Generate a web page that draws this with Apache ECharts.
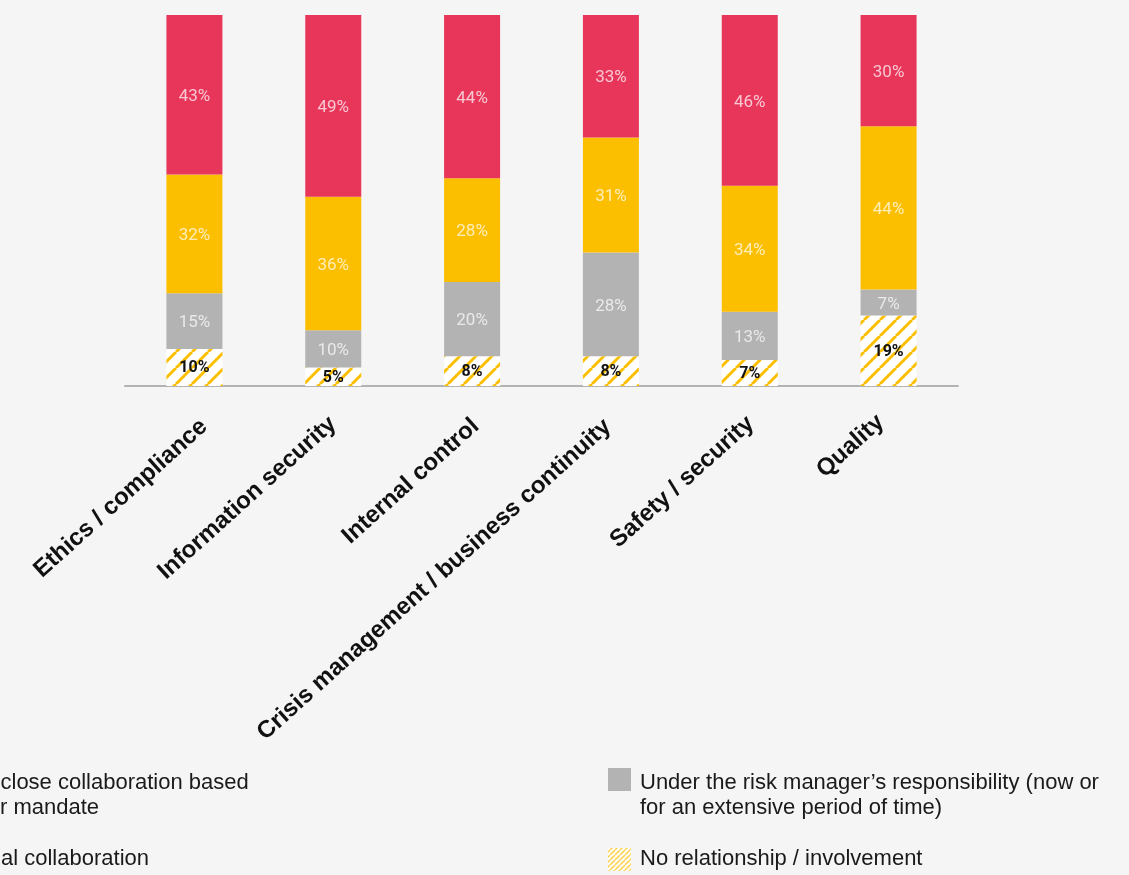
<!DOCTYPE html>
<html>
<head>
<meta charset="utf-8">
<script src="https://cdn.jsdelivr.net/npm/echarts@6/dist/echarts.min.js"></script>
<style>
  html, body { margin: 0; padding: 0; background: #f5f5f5; }
  #chart { width: 1129px; height: 875px; }
</style>
</head>
<body>
<div id="chart"></div>
<script>
// Areas of involvement
const categories = [
  'Ethics / compliance',
  'Information security',
  'Internal control',
  'Crisis management / business continuity',
  'Safety / security',
  'Quality'
];

// Shares in percent, stacked bottom to top
const noRelationship = [10, 5, 8, 8, 7, 19];
const underRiskManager = [15, 10, 20, 28, 13, 7];
const occasional = [32, 36, 28, 31, 34, 44];
const closeCollaboration = [43, 49, 44, 33, 46, 30];

const seriesNames = [
  'No relationship / involvement',
  'Under the risk manager\u2019s responsibility (now or for an extensive period of time)',
  'Occasional collaboration',
  'In close collaboration based on their mandate'
];

const RED = '#e8365b';
const YELLOW = '#fcbf00';
const GREY = '#b3b3b3';

// Fine placement of each slanted category name: [right pad, top pad, bottom pad]
const labelNudge = [
  [-7.5, 12, 0],
  [-2, 0, 5],
  [-3.5, 3, 0],
  [2, 0, 5],
  [-3, 0, 4],
  [2.5, 0, 18]
];

// Diagonal yellow stripes on white
function hatch(size, lineWidth, color) {
  const c = document.createElement('canvas');
  c.width = size; c.height = size;
  const ctx = c.getContext('2d');
  ctx.fillStyle = '#ffffff';
  ctx.fillRect(0, 0, size, size);
  ctx.strokeStyle = color;
  ctx.lineWidth = lineWidth;
  for (const k of [-size, 0, size]) {
    ctx.beginPath();
    ctx.moveTo(k, size);
    ctx.lineTo(k + size, 0);
    ctx.stroke();
  }
  return c;
}

const barHatch = hatch(16, 3, YELLOW);
const keyHatch = hatch(5, 1.6, '#fdd45a');

const legendFont = '22px "Liberation Sans", Arial, sans-serif';
const legendColor = '#1a1a1a';

// width of a piece of key text, used to line up the left key column
const measureCtx = document.createElement('canvas').getContext('2d');
measureCtx.font = legendFont;
const textWidth = s => measureCtx.measureText(s).width;

const chart = echarts.init(document.getElementById('chart'));

const fmt = p => p.value + '%';
const lightLabel = {
  show: true, position: 'inside', formatter: fmt, offset: [0, 2],
  fontFamily: 'Roboto, "Liberation Sans", sans-serif', fontSize: 17,
  color: 'rgba(255,255,255,0.72)'
};

function bar(name, data, color, label) {
  return {
    name, type: 'bar', stack: 'total', data,
    barWidth: 56,
    itemStyle: { color },
    label,
    emphasis: { disabled: true }
  };
}

// one rich style per category name
const axisRich = {};
labelNudge.forEach((n, i) => {
  axisRich['c' + i] = {
    fontFamily: '"Liberation Sans", Arial, sans-serif',
    fontSize: 24, fontWeight: 'bold', color: '#111111',
    padding: [n[1], n[0], n[2], 0]
  };
});

const leftX1 = 0.5 - textWidth('In ');
const leftX2 = -textWidth('on thei');
const leftX3 = 1 - textWidth('Occasion');

chart.setOption({
  backgroundColor: '#f5f5f5',
  animation: false,
  grid: { left: 125, right: 171, top: 15, bottom: 489, containLabel: false },
  xAxis: {
    type: 'category',
    data: categories,
    axisLine: { lineStyle: { color: '#b3b3b3', width: 2 } },
    axisTick: { show: false },
    axisLabel: {
      interval: 0, rotate: 42, margin: 38,
      fontFamily: '"Liberation Sans", Arial, sans-serif',
      fontSize: 24, fontWeight: 'bold', color: '#111111',
      formatter: (value, index) => '{c' + index + '|' + value + '}',
      rich: axisRich
    }
  },
  yAxis: { type: 'value', min: 0, max: 100, show: false },
  series: [
    bar(seriesNames[0], noRelationship, { image: barHatch, repeat: 'repeat' }, {
      show: true, position: 'inside', formatter: fmt, offset: [0, 1],
      fontFamily: 'Roboto, "Liberation Sans", sans-serif',
      fontSize: 16, fontWeight: 'bold', color: '#111111'
    }),
    bar(seriesNames[1], underRiskManager, GREY, lightLabel),
    bar(seriesNames[2], occasional, YELLOW, lightLabel),
    bar(seriesNames[3], closeCollaboration, RED, lightLabel)
  ],
  graphic: [
    // key, left column
    { type: 'rect', shape: { x: leftX3 - 32, y: 768, width: 23, height: 23 }, style: { fill: RED } },
    { type: 'text', x: leftX1, y: 783, style: { text: 'In close collaboration based', font: legendFont, fill: legendColor, verticalAlign: 'middle' } },
    { type: 'text', x: leftX2, y: 808, style: { text: 'on their mandate', font: legendFont, fill: legendColor, verticalAlign: 'middle' } },
    { type: 'rect', shape: { x: leftX3 - 32, y: 848, width: 23, height: 23 }, style: { fill: YELLOW } },
    { type: 'text', x: leftX3, y: 859, style: { text: 'Occasional collaboration', font: legendFont, fill: legendColor, verticalAlign: 'middle' } },
    // key, right column
    { type: 'rect', shape: { x: 608, y: 768, width: 23, height: 23 }, style: { fill: GREY } },
    { type: 'text', x: 640, y: 783, style: { text: 'Under the risk manager\u2019s responsibility (now or', font: legendFont, fill: legendColor, verticalAlign: 'middle' } },
    { type: 'text', x: 640, y: 808, style: { text: 'for an extensive period of time)', font: legendFont, fill: legendColor, verticalAlign: 'middle' } },
    { type: 'rect', shape: { x: 608, y: 848, width: 23, height: 23 }, style: { fill: { image: keyHatch, repeat: 'repeat' } } },
    { type: 'text', x: 640, y: 859, style: { text: 'No relationship / involvement', font: legendFont, fill: legendColor, verticalAlign: 'middle' } }
  ]
});
</script>
</body>
</html>
